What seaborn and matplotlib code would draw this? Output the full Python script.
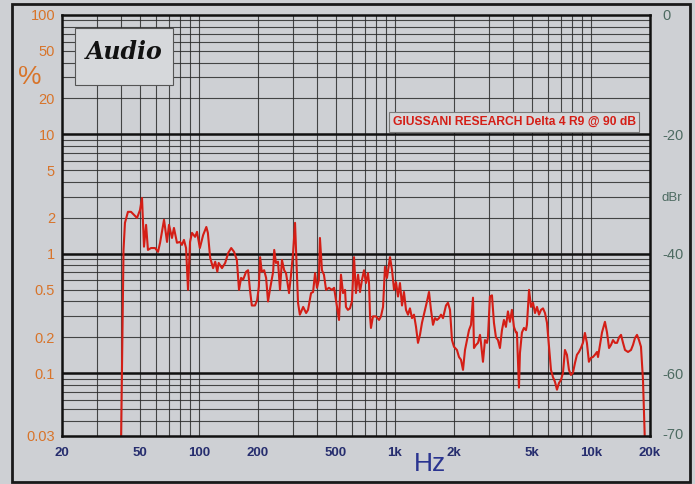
import matplotlib
matplotlib.use("Agg")
import matplotlib.pyplot as plt
import matplotlib.ticker as ticker
from matplotlib.patches import Rectangle
import numpy as np
import seaborn as sns

# THD trace (frequency in Hz, distortion in %)
freq_hz = [40, 41.2, 41.9, 43.4, 45.0, 48.3, 50.0, 51.2, 52.4, 53.7, 54.9, 56.9, 59.7, 61.8,
           63.3, 66.3, 68.7, 70.3, 72.8, 74.5, 77.2, 80.0, 81.8, 83.8, 85.9, 87.9, 90.0, 92.1,
           95.5, 97.7, 101, 105, 109, 111, 114, 118, 121, 124, 126, 131, 136, 141, 146, 151,
           156, 160, 164, 168, 174, 178, 182, 186, 193, 198, 202, 205, 209, 215, 220, 225,
           230, 239, 242, 247, 253, 259, 265, 272, 278, 288, 294, 302, 309, 320, 327, 340,
           352, 360, 373, 382, 391, 400, 409, 414, 424, 434, 445, 460, 477, 489, 506, 518,
           530, 543, 556, 562, 575, 589, 603, 618, 632, 648, 663, 679, 695, 711, 728, 737,
           746, 754, 772, 800, 829, 848, 869, 889, 910, 943, 966, 989, 1012, 1036, 1060, 1086,
           1111, 1138, 1165, 1192, 1221, 1250, 1280, 1310, 1341, 1373, 1423, 1456, 1491, 1526,
           1563, 1600, 1638, 1677, 1717, 1757, 1820, 1863, 1908, 1953, 2000, 2070, 2121, 2171,
           2223, 2276, 2330, 2385, 2442, 2500, 2529, 2589, 2651, 2714, 2746, 2811, 2878, 2946,
           2980, 3051, 3124, 3198, 3274, 3352, 3431, 3513, 3596, 3681, 3769, 3858, 3950, 4044,
           4140, 4188, 4290, 4340, 4443, 4549, 4657, 4711, 4830, 4943, 5060, 5180, 5303, 5429,
           5558, 5690, 5825, 5963, 6104, 6249, 6397, 6549, 6705, 6864, 7027, 7194, 7364, 7539,
           7718, 7901, 8089, 8281, 8477, 8678, 8884, 9095, 9311, 9531, 9757, 10000, 10230, 10470,
           10730, 10860, 11120, 11380, 11780, 12070, 12360, 12650, 12950, 13260, 13580, 13900,
           14230, 14570, 14910, 15450, 16000, 16380, 16770, 17170, 17570, 17990, 18420, 18860]
thd_pct = [0.025, 1.08, 1.82, 2.25, 2.25, 2.0, 2.33, 2.94, 1.15, 1.75, 1.08, 1.12, 1.12, 1.04,
           1.24, 1.93, 1.26, 1.75, 1.36, 1.65, 1.24, 1.26, 1.19, 1.31, 1.12, 0.50, 1.26, 1.50,
           1.39, 1.53, 1.12, 1.44, 1.68, 1.50, 0.93, 0.76, 0.86, 0.71, 0.84, 0.76, 0.84, 1.02, 1.12, 1.04,
           0.89, 0.50, 0.63, 0.61, 0.71, 0.73, 0.50, 0.37, 0.37, 0.41, 0.53, 0.94, 0.71, 0.73, 0.63, 0.40,
           0.50, 0.71, 1.08, 0.84, 0.86, 0.50, 0.89, 0.73, 0.69, 0.47, 0.64, 1.02, 1.82, 0.39, 0.31, 0.36,
           0.32, 0.34, 0.47, 0.48, 0.69, 0.52, 0.61, 1.36, 0.73, 0.67, 0.50, 0.52, 0.50, 0.52, 0.36, 0.28,
           0.67, 0.47, 0.50, 0.36, 0.34, 0.35, 0.40, 0.94, 0.47, 0.67, 0.48, 0.61, 0.73, 0.57, 0.69, 0.57,
           0.30, 0.24, 0.30, 0.30, 0.28, 0.30, 0.36, 0.78, 0.63, 0.94, 0.73, 0.50, 0.58, 0.44, 0.57, 0.37,
           0.48, 0.34, 0.31, 0.35, 0.29, 0.31, 0.245, 0.18, 0.21, 0.265, 0.34, 0.40, 0.48, 0.34,
           0.255, 0.29, 0.28, 0.29, 0.31, 0.29, 0.37, 0.39, 0.34, 0.19, 0.167, 0.157, 0.137, 0.13,
           0.107, 0.157, 0.19, 0.23, 0.255, 0.43, 0.163, 0.173, 0.18, 0.21, 0.18, 0.125, 0.19, 0.18,
           0.20, 0.44, 0.45, 0.265, 0.20, 0.19, 0.163, 0.23, 0.28, 0.245, 0.33, 0.27, 0.34, 0.245,
           0.22, 0.22, 0.076, 0.148, 0.22, 0.24, 0.23, 0.255, 0.50, 0.36, 0.39, 0.32, 0.36, 0.31,
           0.34, 0.35, 0.32, 0.265, 0.167, 0.107, 0.093, 0.085, 0.073, 0.083, 0.088, 0.101, 0.157, 0.143,
           0.107, 0.097, 0.101, 0.122, 0.143, 0.151, 0.163, 0.18, 0.218, 0.18, 0.125, 0.135, 0.137, 0.143,
           0.151, 0.137, 0.173, 0.22, 0.27, 0.22, 0.163, 0.173, 0.19, 0.18, 0.18, 0.20,
           0.21, 0.18, 0.157, 0.151, 0.157, 0.173, 0.198, 0.21, 0.19, 0.167, 0.088, 0.025]

x_ticks = [20, 50, 100, 200, 500, 1000, 2000, 5000, 10000, 20000]
x_labels = ["20", "50", "100", "200", "500", "1k", "2k", "5k", "10k", "20k"]
y_ticks = [100, 50, 20, 10, 5, 2, 1, 0.5, 0.2, 0.1, 0.03]
y_labels = ["100", "50", "20", "10", "5", "2", "1", "0.5", "0.2", "0.1", "0.03"]
dbr_ticks = [0, -20, -40, -60, -70]
decades = [0.1, 1, 10]
title_text = "GIUSSANI RESEARCH Delta 4 R9 @ 90 dB"

sns.set_style("white")
plt.rcParams["font.family"] = ["Liberation Sans", "DejaVu Sans"]
plt.rcParams["axes.unicode_minus"] = False

bg = "#ced0d4"
orange = "#d8742a"
navy = "#262d6e"
green = "#4e6b62"
red = "#d41e16"
gridc = "#2b2b2b"

fig = plt.figure(figsize=(6.95, 4.84), dpi=100, facecolor=bg)
ax = fig.add_axes([62 / 695, 1 - 436 / 484, (650 - 62) / 695, (436 - 15) / 484])
ax.set_facecolor(bg)

sns.lineplot(x=freq_hz, y=thd_pct, color=red, lw=1.5, ax=ax, sort=False)

ax.set_xscale("log")
ax.set_yscale("log")
ax.set_xlim(20, 20000)
ax.set_ylim(0.0299, 100)

ax.xaxis.set_major_locator(ticker.FixedLocator(x_ticks))
ax.xaxis.set_major_formatter(ticker.FixedFormatter(x_labels))
ax.xaxis.set_minor_locator(ticker.LogLocator(base=10, subs=np.arange(1, 10), numticks=30))
ax.xaxis.set_minor_formatter(ticker.NullFormatter())
ax.yaxis.set_major_locator(ticker.FixedLocator(y_ticks))
ax.yaxis.set_major_formatter(ticker.FixedFormatter(y_labels))
ax.yaxis.set_minor_locator(ticker.LogLocator(base=10, subs=np.arange(1, 10), numticks=30))
ax.yaxis.set_minor_formatter(ticker.NullFormatter())

ax.grid(which="both", color=gridc, lw=0.8, alpha=0.85)
for d in decades:
    ax.axhline(d, color="#111111", lw=1.8, zorder=1)

ax.tick_params(axis="x", which="major", length=5, width=1, pad=3, labelsize=9.5,
               labelcolor=navy, color="#222222")
ax.tick_params(axis="y", which="major", length=0, pad=5, labelsize=10.5, labelcolor=orange)
ax.tick_params(which="minor", length=0)
for lab in ax.get_xticklabels():
    lab.set_fontweight("bold")

for s in ax.spines.values():
    s.set_visible(True)
    s.set_color("#111111")
    s.set_linewidth(1.8)

ax2 = ax.twinx()
ax2.set_ylim(20 * np.log10(0.0299 / 100), 0)
ax2.set_yticks(dbr_ticks)
ax2.set_yticklabels([str(t) for t in dbr_ticks])
ax2.tick_params(axis="y", length=0, pad=9, labelsize=10.5, labelcolor=green)
for s in ax2.spines.values():
    s.set_visible(False)

fig.text(30 / 695, 1 - 77 / 484, "%", color=orange, fontsize=19, ha="center", va="center")
fig.text(672 / 695, 1 - 198 / 484, "dBr", color=green, fontsize=9.5, ha="center", va="center")
fig.text(430 / 695, 1 - 464 / 484, "Hz", color="#2a3490", fontsize=19, ha="center", va="center")

ax.text(0.769, 0.746, title_text, transform=ax.transAxes, color=red, fontsize=8.7,
        fontweight="bold", ha="center", va="center",
        bbox=dict(boxstyle="square,pad=0.3", fc="#d6d8db", ec="#7a7a7a", lw=0.8))

# logo box
fig.patches.append(Rectangle((75 / 695, 1 - 85 / 484), 98 / 695, 57 / 484,
                             transform=fig.transFigure, fc="#d6d8db", ec="#555555", lw=0.8, zorder=3))
fig.text(124 / 695, 1 - 52 / 484, "Audio", family="DejaVu Serif", style="italic",
         fontweight="bold", fontsize=17, color="#111111", ha="center", va="center", zorder=4)

# outer frame
fig.patches.append(Rectangle((12 / 695, 2 / 484), 678 / 695, 478 / 484,
                             transform=fig.transFigure, fill=False, ec="#1a1a1a", lw=2))

plt.savefig("out.png", dpi=100, facecolor=bg)
plt.close(fig)
